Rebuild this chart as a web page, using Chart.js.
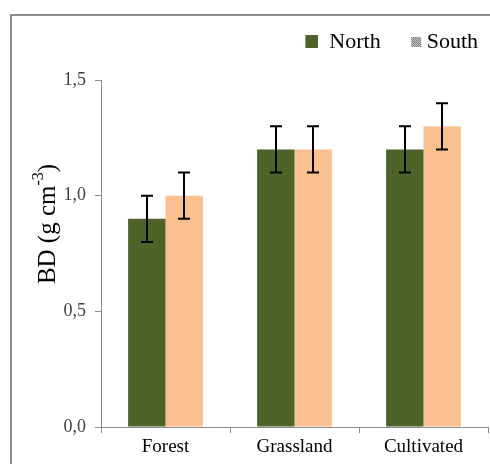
<!DOCTYPE html>
<html>
<head>
<meta charset="utf-8">
<script src="https://cdn.jsdelivr.net/npm/chart.js@4/dist/chart.umd.min.js"></script>
<style>
  html, body { margin: 0; padding: 0; background: #ffffff; }
  #wrap { position: relative; width: 490px; height: 464px; overflow: hidden; }
  #frame { position: absolute; left: 10px; top: 14px; width: 600px; height: 600px;
           border-left: 2px solid #8e8e8e; border-top: 2px solid #8e8e8e; }
  canvas { position: absolute; left: 0; top: 0; }
</style>
</head>
<body>
<div id="wrap">
  <div id="frame"></div>
  <canvas id="c" width="490" height="464"></canvas>
</div>
<script>
// ---- data ----
const categories = ['Forest', 'Grassland', 'Cultivated'];
const seriesNames = ['North', 'South'];
const northValues = [0.9, 1.2, 1.2];
const southValues = [1.0, 1.2, 1.3];
const northErrors = [0.1, 0.1, 0.1];
const southErrors = [0.1, 0.1, 0.1];
const yTickValues = [0, 0.5, 1.0, 1.5];

const NORTH_COLOR = '#4f6228';
const SOUTH_COLOR = '#fac090';
const AXIS_COLOR = '#8c8c8c';
const SERIF = "'Liberation Serif', 'Times New Roman', serif";

// legend icons
function makeNorthIcon() {
  const cv = document.createElement('canvas');
  cv.width = 25; cv.height = 14;
  const c = cv.getContext('2d');
  c.fillStyle = NORTH_COLOR;
  c.fillRect(12, 0, 13, 13);
  return cv;
}
function makeSouthIcon() {
  const cv = document.createElement('canvas');
  cv.width = 40; cv.height = 12;
  const c = cv.getContext('2d');
  const ox = 28, oy = 1;
  for (let i = 0; i < 10; i++) {
    for (let j = 0; j < 10; j++) {
      const on = ((i + j) % 2 === 0);
      c.fillStyle = on ? '#6e6e6e' : '#d6d6d6';
      c.fillRect(ox + i, oy + j, 1, 1);
    }
  }
  return cv;
}
const icons = [makeNorthIcon(), makeSouthIcon()];

const errorLists = [northErrors, southErrors];

const errorBarPlugin = {
  id: 'errorBars',
  afterDatasetsDraw(chart) {
    const ctx = chart.ctx;
    const yScale = chart.scales.y;
    ctx.save();
    ctx.strokeStyle = '#000000';
    ctx.lineWidth = 2;
    chart.data.datasets.forEach((ds, di) => {
      const meta = chart.getDatasetMeta(di);
      meta.data.forEach((bar, i) => {
        const v = ds.data[i];
        const e = errorLists[di][i];
        const yTop = yScale.getPixelForValue(v + e);
        const yBot = yScale.getPixelForValue(v - e);
        const x = Math.round(bar.x);
        const half = 6;
        ctx.beginPath();
        ctx.moveTo(x, yTop); ctx.lineTo(x, yBot);
        ctx.moveTo(x - half, yTop); ctx.lineTo(x + half, yTop);
        ctx.moveTo(x - half, yBot); ctx.lineTo(x + half, yBot);
        ctx.stroke();
      });
    });
    ctx.restore();
  }
};

const yTitlePlugin = {
  id: 'yTitle',
  afterDraw(chart) {
    const ctx = chart.ctx;
    const cx = 48;
    const cy = (chart.legend.top + chart.chartArea.bottom) / 2;
    const big = '25px ' + SERIF;
    const small = '16px ' + SERIF;
    const parts = [
      { t: 'BD (g cm', f: big, dy: 0 },
      { t: '-3', f: small, dy: -9 },
      { t: ')', f: big, dy: 0 }
    ];
    ctx.save();
    let total = 0;
    parts.forEach(p => { ctx.font = p.f; p.w = ctx.measureText(p.t).width; total += p.w; });
    ctx.translate(cx, cy);
    ctx.rotate(-Math.PI / 2);
    ctx.fillStyle = '#000000';
    ctx.textBaseline = 'middle';
    ctx.textAlign = 'left';
    let x = -total / 2;
    parts.forEach(p => {
      ctx.font = p.f;
      ctx.fillText(p.t, x, p.dy);
      x += p.w;
    });
    ctx.restore();
  }
};

const legendSpacePlugin = {
  id: 'legendSpace',
  afterInit(chart) {
    const lg = chart.legend;
    if (!lg || lg._patched) return;
    const orig = lg.fit;
    lg.fit = function () { orig.call(this); this.height += 17; };
    lg._patched = true;
  }
};

new Chart(document.getElementById('c'), {
  type: 'bar',
  data: {
    labels: categories,
    datasets: [
      { label: seriesNames[0], data: northValues, backgroundColor: NORTH_COLOR, borderWidth: 0,
        categoryPercentage: 0.58, barPercentage: 1.0 },
      { label: seriesNames[1], data: southValues, backgroundColor: SOUTH_COLOR, borderWidth: 0,
        categoryPercentage: 0.58, barPercentage: 1.0 }
    ]
  },
  options: {
    responsive: false,
    animation: false,
    devicePixelRatio: 1,
    layout: { padding: { top: 21, right: 2, bottom: 0, left: 0 } },
    plugins: {
      tooltip: { enabled: false },
      legend: {
        position: 'top',
        align: 'end',
        labels: {
          usePointStyle: true,
          pointStyleWidth: 25,
          padding: 10,
          color: '#000000',
          font: { family: SERIF, size: 22 },
          generateLabels(chart) {
            return chart.data.datasets.map((ds, i) => ({
              text: ds.label,
              pointStyle: icons[i],
              fillStyle: ds.backgroundColor,
              strokeStyle: 'rgba(0,0,0,0)',
              lineWidth: 0,
              hidden: false,
              datasetIndex: i,
              fontColor: '#000000'
            }));
          }
        }
      }
    },
    scales: {
      x: {
        grid: { drawOnChartArea: false, drawTicks: true, tickLength: 6, color: AXIS_COLOR, offset: true },
        border: { color: AXIS_COLOR, width: 1 },
        ticks: { color: '#000000', font: { family: SERIF, size: 19 }, padding: 3, maxRotation: 0 },
        afterFit(scale) { scale.height = 37; }
      },
      y: {
        min: 0,
        max: 1.5,
        afterBuildTicks(scale) { scale.ticks = yTickValues.map(v => ({ value: v })); },
        grid: { drawOnChartArea: false, drawTicks: true, tickLength: 6, color: AXIS_COLOR },
        border: { color: AXIS_COLOR, width: 1 },
        ticks: {
          color: '#404040',
          font: { family: SERIF, size: 18 },
          padding: 9,
          callback: (v) => Number(v).toFixed(1).replace('.', ',')
        },
        afterFit(scale) { scale.width = 101; }
      }
    }
  },
  plugins: [legendSpacePlugin, errorBarPlugin, yTitlePlugin]
});
</script>
</body>
</html>
